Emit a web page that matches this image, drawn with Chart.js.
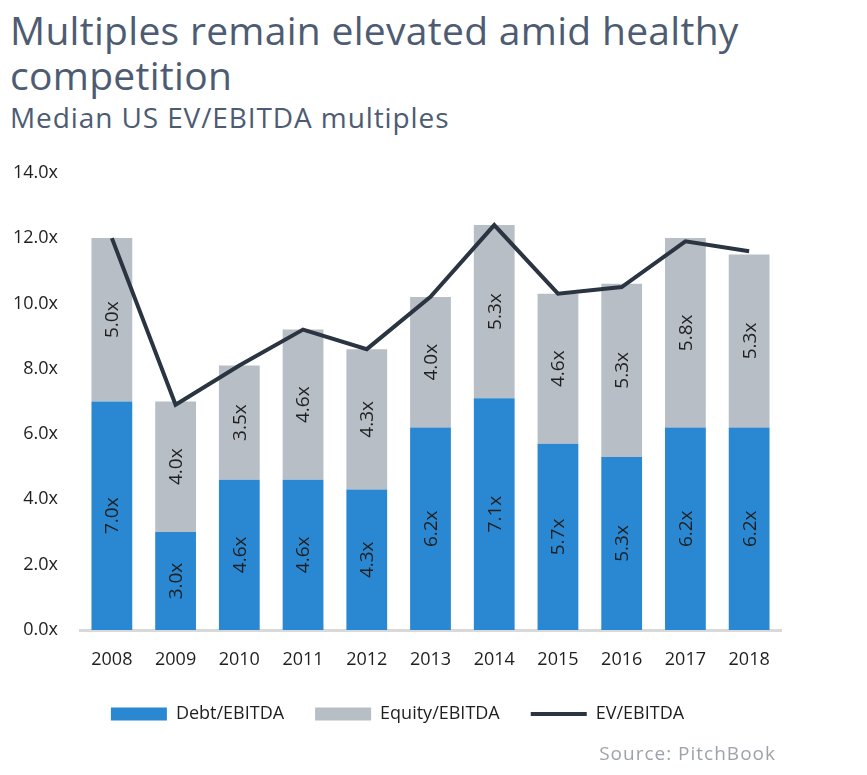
<!DOCTYPE html>
<html>
<head>
<meta charset="utf-8">
<script src="https://cdn.jsdelivr.net/npm/chart.js@4.4.1/dist/chart.umd.min.js"></script>
<style>
  body { margin: 0; background: #fff; width: 867px; height: 775px; position: relative; overflow: hidden; font-family: "Open Sans", sans-serif; }
  .title { position: absolute; left: 10px; top: 7px; font-size: 39px; line-height: 45px; color: #4d5c72; font-weight: 500; letter-spacing: 0.3px; }
  .subtitle { position: absolute; left: 10px; top: 99px; font-size: 28px; line-height: 36px; color: #4d5c72; letter-spacing: 0.9px; }
  .source { position: absolute; right: 91px; top: 741px; font-size: 19px; line-height: 24px; color: #9ea3aa; letter-spacing: 1px; }
  .wrap { position: absolute; left: 0; top: 140px; width: 867px; height: 635px; }
</style>
</head>
<body>
<div class="title">Multiples remain elevated amid healthy<br>competition</div>
<div class="subtitle">Median US EV/EBITDA multiples</div>
<div class="wrap"><canvas id="multiplesChart"></canvas></div>
<div class="source">Source: PitchBook</div>
<script>
// Dữ liệu
const years = ['2008', '2009', '2010', '2011', '2012', '2013', '2014', '2015', '2016', '2017', '2018'];
const debtEbitda = [7.0, 3.0, 4.6, 4.6, 4.3, 6.2, 7.1, 5.7, 5.3, 6.2, 6.2];
const equityEbitda = [5.0, 4.0, 3.5, 4.6, 4.3, 4.0, 5.3, 4.6, 5.3, 5.8, 5.3];
const evEbitda = [12.0, 6.9, 8.1, 9.2, 8.6, 10.2, 12.4, 10.3, 10.5, 11.9, 11.6];
const yTicks = [0, 2, 4, 6, 8, 10, 12, 14];

function fmtX(v) {
    return Number(v).toFixed(1) + 'x';
}

// Vẽ nhãn xoay dọc trong từng đoạn cột
const barLabels = {
    id: 'barLabels',
    afterDatasetsDraw(chart) {
        const ctx = chart.ctx;
        ctx.save();
        ctx.font = '19px "Open Sans", sans-serif';
        ctx.fillStyle = '#1f1f1f';
        ctx.textAlign = 'center';
        ctx.textBaseline = 'middle';
        chart.data.datasets.forEach((ds, i) => {
            if (ds.type !== 'bar') return;
            const meta = chart.getDatasetMeta(i);
            meta.data.forEach((bar, j) => {
                const cy = (bar.y + bar.base) / 2;
                ctx.save();
                ctx.translate(bar.x, cy);
                ctx.rotate(-Math.PI / 2);
                ctx.fillText(fmtX(ds.data[j]), 0, 1);
                ctx.restore();
            });
        });
        ctx.restore();
    }
};

const canvasElement = document.getElementById('multiplesChart');

new Chart(canvasElement.getContext('2d'), {
    data: {
        labels: years,
        datasets: [
            {
                type: 'bar',
                label: 'Debt/EBITDA',
                data: debtEbitda,
                backgroundColor: '#2a88d3',
                stack: 'multiples',
                pointStyle: 'rect',
                borderWidth: 0,
                order: 1
            },
            {
                type: 'bar',
                label: 'Equity/EBITDA',
                data: equityEbitda,
                backgroundColor: '#b8bec6',
                stack: 'multiples',
                pointStyle: 'rect',
                borderWidth: 0,
                order: 1
            },
            {
                type: 'line',
                label: 'EV/EBITDA',
                data: evEbitda,
                borderColor: '#2b3541',
                backgroundColor: '#2b3541',
                borderWidth: 4,
                pointRadius: 0,
                pointStyle: 'line',
                tension: 0,
                stack: 'ev',
                order: 0
            }
        ]
    },
    options: {
        responsive: true,
        maintainAspectRatio: false,
        animation: false,
        layout: {
            padding: { left: 14, right: 86, top: 18, bottom: 42 }
        },
        datasets: {
            bar: { barPercentage: 0.64, categoryPercentage: 1 }
        },
        scales: {
            x: {
                stacked: true,
                grid: { display: false, drawTicks: false },
                border: { display: true, color: '#d9d9d9', width: 3 },
                ticks: {
                    padding: 19,
                    color: '#1f1f1f',
                    font: { family: '"Open Sans", sans-serif', size: 18 },
                    maxRotation: 0
                },
                afterFit(scale) { scale.height = 44; }
            },
            y: {
                stacked: true,
                min: 0,
                max: 14,
                afterBuildTicks(scale) {
                    scale.ticks = yTicks.map(v => ({ value: v }));
                },
                afterFit(scale) { scale.width = 66; },
                grid: { display: false, drawTicks: false },
                border: { display: false },
                ticks: {
                    padding: 22,
                    color: '#1f1f1f',
                    font: { family: '"Open Sans", sans-serif', size: 18 },
                    callback: v => fmtX(v)
                }
            }
        },
        plugins: {
            legend: {
                display: true,
                position: 'bottom',
                labels: {
                    usePointStyle: true,
                    pointStyleWidth: 56,
                    boxHeight: 13,
                    padding: 31,
                    color: '#1f1f1f',
                    font: { family: '"Open Sans", sans-serif', size: 18 },
                    sort: (a, b) => a.datasetIndex - b.datasetIndex
                }
            },
            tooltip: { enabled: false },
            title: { display: false }
        }
    },
    plugins: [barLabels]
});
</script>
</body>
</html>
